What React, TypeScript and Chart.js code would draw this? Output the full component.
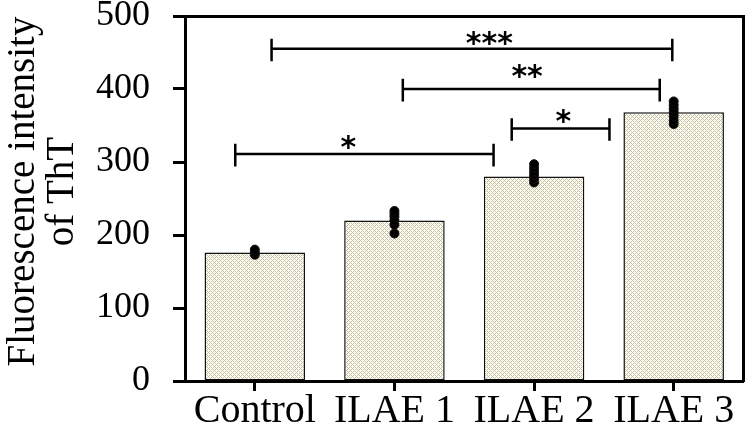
import React, { useEffect, useRef } from "react";
import { Chart, registerables } from "chart.js";

Chart.register(...registerables);

const categories = ["Control", "ILAE 1", "ILAE 2", "ILAE 3"];
const meanValues = [176, 220, 280, 368];
const controlPoints = [173, 176, 180];
const ilae1Points = [202, 214, 220, 225, 229, 233];
const ilae2Points = [272, 277, 282, 287, 292, 297];
const ilae3Points = [352, 357, 363, 368, 373, 378, 383];
const yTitle = ["Fluorescence intensity", "of ThT"];

// significance brackets (positions in category units, level in y units)
const bracketFrom = [0.12, 1.06, -0.14, 1.84];
const bracketTo = [2.99, 2.9, 1.71, 2.54];
const bracketLevel = [455, 400, 311, 346];
const bracketStars = ["***", "**", "*", "*"];
const starX = [1.68, 1.95, 0.67, 2.21];
const starY = [472, 427, 330, 366];

const pointGroups = [controlPoints, ilae1Points, ilae2Points, ilae3Points];

function makePattern(ctx: CanvasRenderingContext2D) {
  const c = document.createElement("canvas");
  c.width = 4;
  c.height = 4;
  const p = c.getContext("2d")!;
  p.fillStyle = "#ffffff";
  p.fillRect(0, 0, 4, 4);
  p.fillStyle = "rgb(200,192,150)";
  for (let x = 0; x < 4; x++) {
    for (let y = 0; y < 4; y++) {
      if ((x + y) % 4 === 0 || (((x - y) % 4) + 4) % 4 === 0) {
        p.fillRect(x, y, 1, 1);
      }
    }
  }
  return ctx.createPattern(c, "repeat")!;
}

const starPlugin = {
  id: "stars",
  afterDatasetsDraw(chart: any) {
    const xs = chart.scales.xl;
    const ys = chart.scales.y;
    const ctx = chart.ctx;
    const size = 30;
    ctx.save();
    ctx.font = `bold ${size}px "DejaVu Sans"`;
    ctx.fillStyle = "#000";
    ctx.textAlign = "center";
    ctx.textBaseline = "alphabetic";
    bracketStars.forEach((s, i) => {
      ctx.fillText(s, xs.getPixelForValue(starX[i]), ys.getPixelForValue(starY[i]) + size * 0.56);
    });
    ctx.restore();
  },
};

const yTitlePlugin = {
  id: "yTitle",
  afterDraw(chart: any) {
    const ctx = chart.ctx;
    const area = chart.chartArea;
    const size = 39;
    const lineGap = 39;
    ctx.save();
    ctx.font = `${size}px "Liberation Serif"`;
    ctx.fillStyle = "#000";
    ctx.textAlign = "center";
    ctx.textBaseline = "alphabetic";
    const cy = (area.top + area.bottom) / 2 - 7;
    ctx.translate(34, cy);
    ctx.rotate(-Math.PI / 2);
    yTitle.forEach((t, i) => ctx.fillText(t, 0, i * lineGap));
    ctx.restore();
  },
};

export default function App() {
  const ref = useRef<HTMLCanvasElement>(null);

  useEffect(() => {
    const canvas = ref.current!;
    const ctx = canvas.getContext("2d")!;
    const pattern = makePattern(ctx);

    const dots: { x: number; y: number }[] = [];
    pointGroups.forEach((g, i) => g.forEach((v) => dots.push({ x: i, y: v })));

    const bracketSets = bracketFrom.map((f, i) => {
      const t = bracketTo[i];
      const l = bracketLevel[i];
      return {
        type: "line" as const,
        xAxisID: "xl",
        yAxisID: "y",
        data: [
          { x: f, y: l + 14 },
          { x: f, y: l - 17 },
          { x: f, y: null },
          { x: f, y: l },
          { x: t, y: l },
          { x: t, y: null },
          { x: t, y: l + 14 },
          { x: t, y: l - 17 },
        ],
        borderColor: "#000",
        borderWidth: 2.5,
        pointRadius: 0,
        spanGaps: false,
        fill: false,
        tension: 0,
      };
    });

    const zeroPad = (s: any) => {
      s.paddingTop = 0;
      s.paddingBottom = 0;
      s.paddingLeft = 0;
      s.paddingRight = 0;
    };

    const chart = new Chart(ctx, {
      type: "bar",
      data: {
        labels: categories,
        datasets: [
          {
            type: "bar",
            data: meanValues,
            xAxisID: "x",
            yAxisID: "y",
            backgroundColor: pattern as any,
            borderColor: "#111",
            borderWidth: 1.5,
            borderSkipped: false,
            grouped: false,
            barPercentage: 0.72,
            categoryPercentage: 1,
            order: 3,
          } as any,
          {
            type: "scatter",
            data: dots,
            xAxisID: "xl",
            yAxisID: "y",
            pointRadius: 4.5,
            pointBackgroundColor: "#000",
            pointBorderColor: "#111",
            pointBorderWidth: 1,
            order: 1,
          } as any,
          ...(bracketSets as any[]),
        ],
      },
      options: {
        animation: false,
        responsive: false,
        layout: { padding: { top: 16, right: 2, left: 0, bottom: 0 } },
        plugins: {
          legend: { display: false },
          tooltip: { enabled: false },
        },
        scales: {
          x: {
            type: "category",
            position: "bottom",
            offset: true,
            grid: {
              display: true,
              drawOnChartArea: false,
              drawTicks: true,
              tickLength: 10,
              tickWidth: 3,
              tickColor: "#000",
              offset: false,
            },
            border: { display: true, color: "#000", width: 3 },
            ticks: {
              color: "#000",
              padding: 0,
              maxRotation: 0,
              font: { family: "'Liberation Serif'", size: 40, lineHeight: 1 },
            },
            afterFit: (s: any) => {
              s.height = 60;
              zeroPad(s);
            },
          },
          xl: {
            type: "linear",
            position: "top",
            min: -0.5,
            max: 3.5,
            offset: false,
            grid: { display: false, offset: false },
            ticks: { display: false },
            border: { display: true, color: "#000", width: 3 },
            afterFit: (s: any) => {
              s.height = 0;
              zeroPad(s);
            },
          },
          y: {
            type: "linear",
            position: "left",
            min: 0,
            max: 500,
            ticks: {
              stepSize: 100,
              color: "#000",
              padding: 23,
              font: { family: "'Liberation Serif'", size: 36 },
            },
            grid: {
              display: true,
              drawOnChartArea: false,
              drawTicks: true,
              tickLength: 12,
              tickWidth: 3,
              tickColor: "#000",
            },
            border: { display: true, color: "#000", width: 3 },
            afterFit: (s: any) => {
              s.width = 185;
              zeroPad(s);
            },
          },
          yr: {
            type: "linear",
            position: "right",
            min: 0,
            max: 500,
            grid: { display: false },
            ticks: { display: false },
            border: { display: true, color: "#000", width: 3 },
            afterFit: (s: any) => {
              s.width = 0;
              zeroPad(s);
            },
          },
        },
      },
      plugins: [starPlugin, yTitlePlugin],
    });

    return () => chart.destroy();
  }, []);

  return (
    <div style={{ position: "fixed", left: 0, top: 0, width: 749, height: 441, background: "#fff" }}>
      <canvas ref={ref} width={749} height={441} style={{ display: "block" }} />
    </div>
  );
}
